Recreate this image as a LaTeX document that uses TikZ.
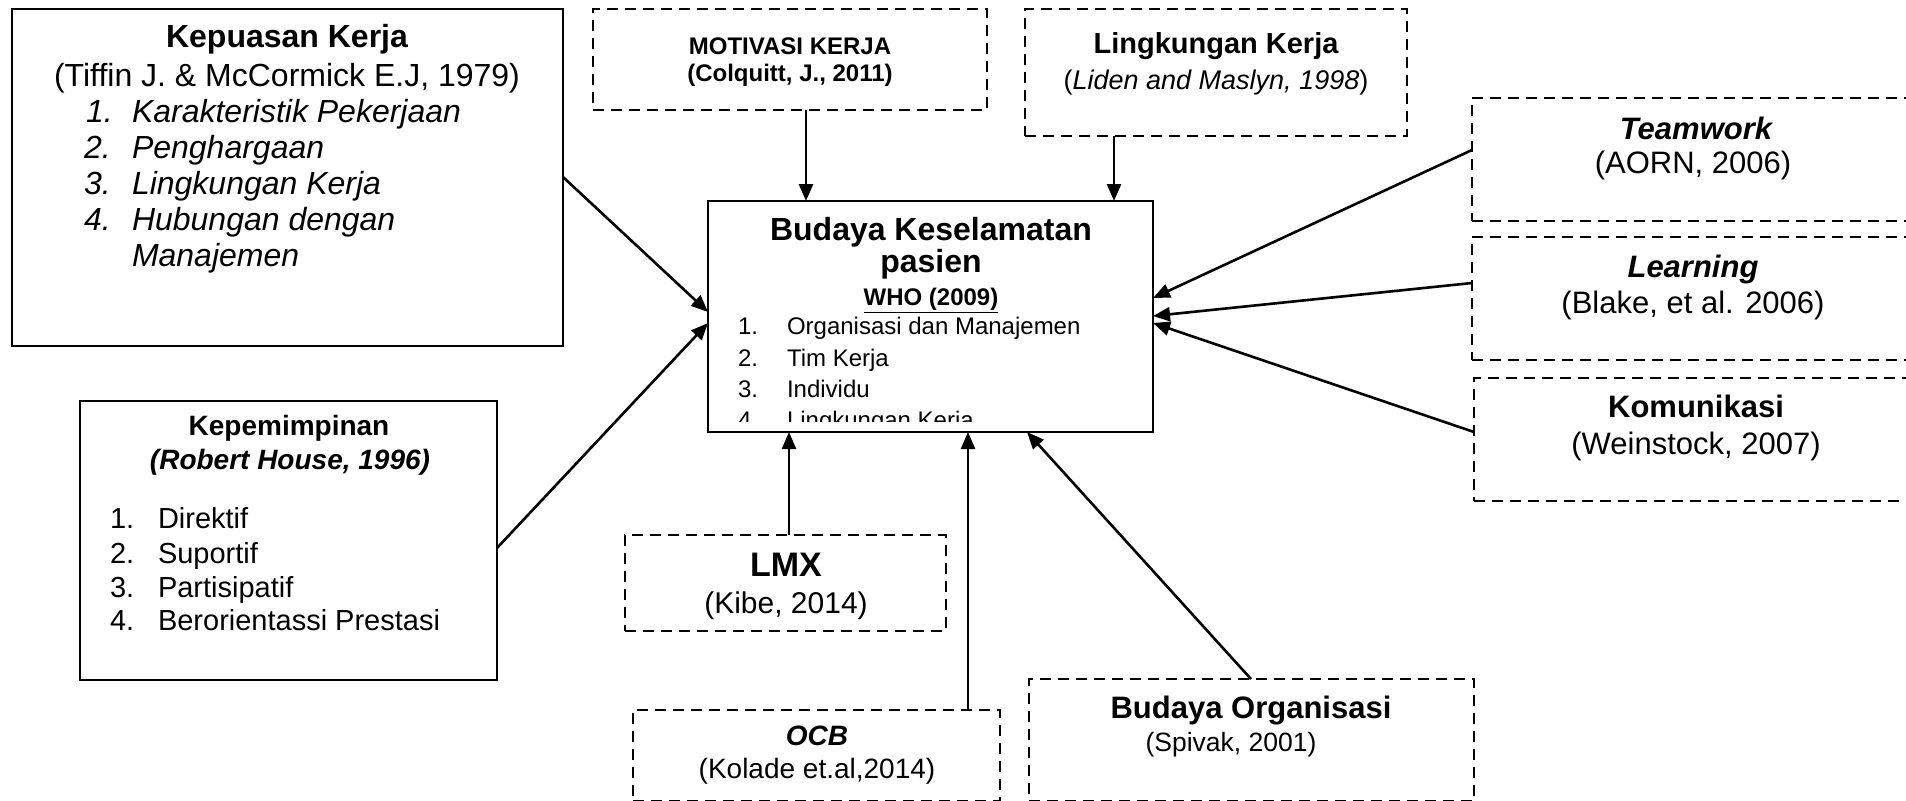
\documentclass[tikz,border=0pt]{standalone}
\usepackage{fontspec}
\setmainfont{Liberation Sans}
\usetikzlibrary{arrows.meta}
\newcommand\fsz[1]{\fontsize{#1pt}{#1pt}\selectfont}
\begin{document}
\begin{tikzpicture}[x=0.5pt,y=-0.5pt,
  solidbox/.style={draw, line width=1.35pt, inner sep=0pt, outer sep=0pt},
  dashbox/.style={draw, line width=1.45pt, dash pattern=on 5.5pt off 3.5pt, inner sep=0pt, outer sep=0pt},
  ctext/.style={inner sep=0pt, outer sep=0pt, anchor=base},
  ltext/.style={inner sep=0pt, outer sep=0pt, anchor=base west},
  conn/.style={line width=1.3pt, -{Triangle[length=8.5pt,width=7pt]}}]
\useasboundingbox (0,0) rectangle (1906,800);
\clip (0,0) rectangle (1906,800);
\fill[white] (0,0) rectangle (1906,800);

% boxes
\node[solidbox, minimum width=275.5pt, minimum height=168.5pt] (kep) at (287.5,177.5) {};
\node[dashbox, minimum width=197pt, minimum height=50.5pt] (mot) at (790,59.5) {};
\node[dashbox, minimum width=191pt, minimum height=63.5pt] (ling) at (1216,72.5) {};
\node[dashbox, minimum width=224pt, minimum height=61.5pt] (team) at (1696,159.5) {};
\node[dashbox, minimum width=224pt, minimum height=61.5pt] (learn) at (1696,298.5) {};
\node[dashbox, minimum width=223pt, minimum height=61.5pt] (kom) at (1697,439.5) {};
\node[solidbox, minimum width=222.5pt, minimum height=115.5pt] (bks) at (930.5,316.5) {};
\node[solidbox, minimum width=208.5pt, minimum height=139.5pt] (kpm) at (288.5,540.5) {};
\node[dashbox, minimum width=160.5pt, minimum height=48pt] (lmx) at (785.5,583) {};
\node[dashbox, minimum width=183.5pt, minimum height=45.5pt] (ocb) at (816.5,755.5) {};
\node[dashbox, minimum width=222.5pt, minimum height=61pt] (bo) at (1251.5,740) {};

% Kepuasan Kerja
\node[ctext] (kepT) at (287,47) {\fsz{16}\bfseries Kepuasan Kerja};
\node[ctext] (kepS) at (287,86) {\fsz{16}(Tiffin J. \& McCormick E.J, 1979)};
\node[ltext] (kepN1) at (86,122) {\fsz{16}\itshape 1.};
\node[ltext] (kepI1) at (132,122) {\fsz{16}\itshape Karakteristik Pekerjaan};
\node[ltext] (kepN2) at (84,158) {\fsz{16}\itshape 2.};
\node[ltext] (kepI2) at (132,158) {\fsz{16}\itshape Penghargaan};
\node[ltext] (kepN3) at (84,194) {\fsz{16}\itshape 3.};
\node[ltext] (kepI3) at (132,194) {\fsz{16}\itshape Lingkungan Kerja};
\node[ltext] (kepN4) at (84,230) {\fsz{16}\itshape 4.};
\node[ltext] (kepI4) at (132,230) {\fsz{16}\itshape Hubungan dengan};
\node[ltext] (kepI5) at (132,266) {\fsz{16}\itshape Manajemen};

% Motivasi
\node[ctext] (motT) at (790,54) {\fsz{12}\bfseries MOTIVASI KERJA};
\node[ctext] (motS) at (790,81) {\fsz{12}\bfseries (Colquitt, J., 2011)};

% Lingkungan
\node[ctext] (lingT) at (1216,53) {\fsz{14.5}\bfseries Lingkungan Kerja};
\node[ctext] (lingS) at (1216,89) {\fsz{13.5}(\textit{Liden and Maslyn, 1998})};

% right boxes
\node[ctext] (teamT) at (1696,139) {\fsz{15.5}\bfseries\itshape Teamwork};
\node[ctext] (teamS) at (1693,173) {\fsz{15.5}(AORN, 2006)};
\node[ctext] (learnT) at (1693,277) {\fsz{15.5}\bfseries\itshape Learning};
\node[ctext] (learnS) at (1693,313) {\fsz{15.5}(Blake, et al. 2006)};
\node[ctext] (komT) at (1696,417) {\fsz{15.5}\bfseries Komunikasi};
\node[ctext] (komS) at (1696,454) {\fsz{15.5}(Weinstock, 2007)};

% centre box
\node[ctext] (bksT1) at (931,240) {\fsz{16}\bfseries Budaya Keselamatan};
\node[ctext] (bksT2) at (931,272) {\fsz{16}\bfseries pasien};
\node[ctext] (bksW) at (931,305) {\fsz{12}\bfseries \underline{WHO (2009)}};
\begin{scope}
\clip (709,202) rectangle (1152,421);
\node[ltext] (bksN1) at (738,334) {\fsz{12}1.};
\node[ltext] (bksI1) at (787,334) {\fsz{12}Organisasi dan Manajemen};
\node[ltext] (bksN2) at (738,366) {\fsz{12}2.};
\node[ltext] (bksI2) at (787,366) {\fsz{12}Tim Kerja};
\node[ltext] (bksN3) at (738,397) {\fsz{12}3.};
\node[ltext] (bksI3) at (787,397) {\fsz{12}Individu};
\node[ltext] (bksN4) at (738,428) {\fsz{12}4.};
\node[ltext] (bksI4) at (787,428) {\fsz{12}Lingkungan Kerja};
\end{scope}

% Kepemimpinan
\node[ctext] (kpmT) at (289,435) {\fsz{14}\bfseries Kepemimpinan};
\node[ctext] (kpmS) at (290,469) {\fsz{14}\bfseries\itshape (Robert House, 1996)};
\node[ltext] (kpmN1) at (110,528) {\fsz{14.5}1.};
\node[ltext] (kpmI1) at (158,528) {\fsz{14.5}Direktif};
\node[ltext] (kpmN2) at (110,563) {\fsz{14.5}2.};
\node[ltext] (kpmI2) at (158,563) {\fsz{14.5}Suportif};
\node[ltext] (kpmN3) at (110,597) {\fsz{14.5}3.};
\node[ltext] (kpmI3) at (158,597) {\fsz{14.5}Partisipatif};
\node[ltext] (kpmN4) at (110,630) {\fsz{14.5}4.};
\node[ltext] (kpmI4) at (158,630) {\fsz{14.5}Berorientassi Prestasi};

% LMX, OCB, Budaya Organisasi
\node[ctext] (lmxT) at (786,576) {\fsz{17}\bfseries LMX};
\node[ctext] (lmxS) at (786,613) {\fsz{15}(Kibe, 2014)};
\node[ctext] (ocbT) at (817,745) {\fsz{14}\bfseries\itshape OCB};
\node[ctext] (ocbS) at (817,778) {\fsz{14}(Kolade et.al,2014)};
\node[ctext] (boT) at (1251,718) {\fsz{15.5}\bfseries Budaya Organisasi};
\node[ctext] (boS) at (1231,751) {\fsz{13.25}(Spivak, 2001)};

% connectors
\draw[conn] (mot.south -| 806,0) -- (bks.north -| 806,0);
\draw[conn] (ling.south -| 1114,0) -- (bks.north -| 1114,0);
\draw[conn] (kep.east |- 0,177) -- (bks.west |- 0,312);
\draw[conn] (kpm.east |- 0,548) -- (bks.west |- 0,323);
\draw[conn] (team.west |- 0,150) -- (bks.east |- 0,298);
\draw[conn] (learn.west |- 0,283) -- (bks.east |- 0,316);
\draw[conn] (kom.west |- 0,432) -- (bks.east |- 0,323);
\draw[conn] (lmx.north -| 789,0) -- (bks.south -| 789,0);
\draw[conn] (ocb.north -| 968,0) -- (bks.south -| 968,0);
\draw[conn] (bo.north -| 1251,0) -- (bks.south -| 1027,0);
\end{tikzpicture}
\end{document}
